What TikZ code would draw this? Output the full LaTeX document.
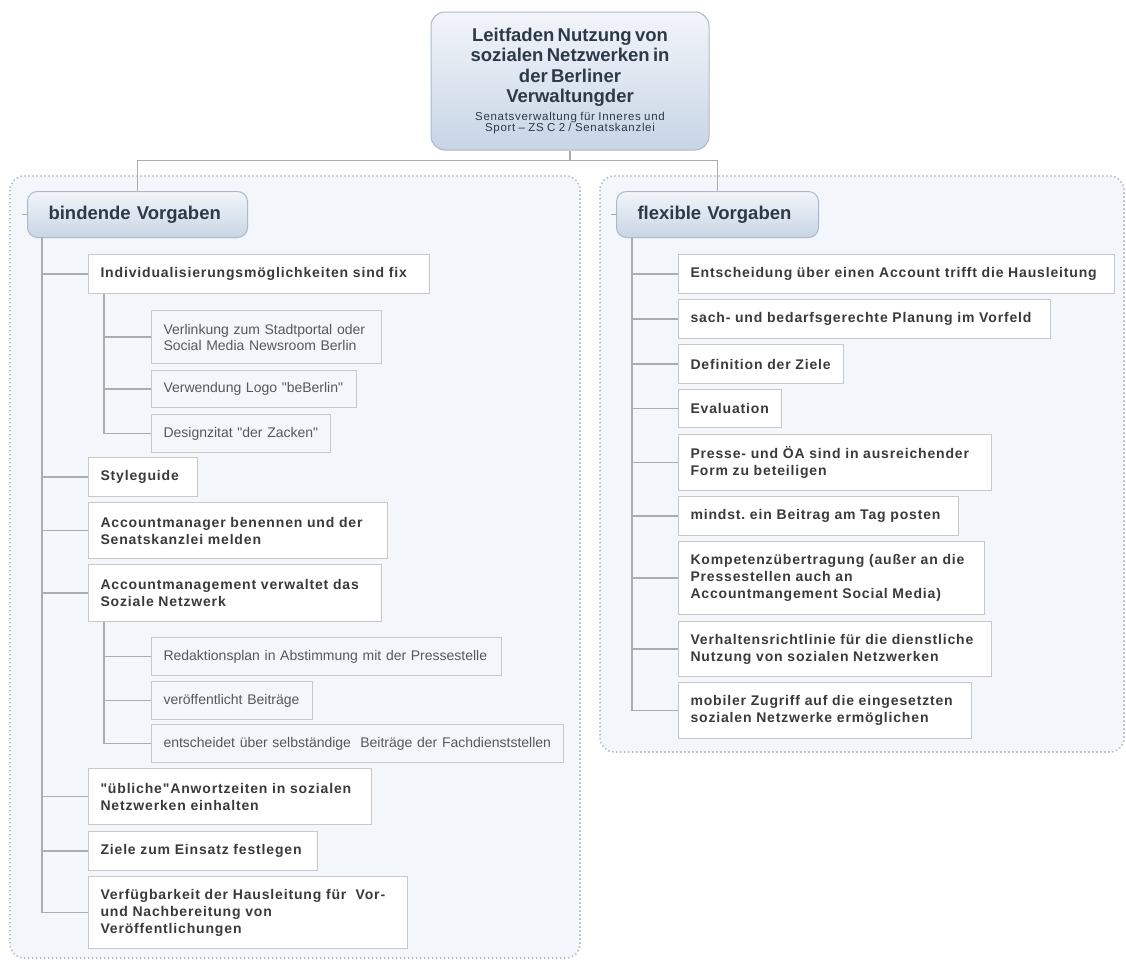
\documentclass[tikz,border=0pt]{standalone}
\usepackage{fontspec}
\setmainfont{Liberation Sans}
\newfontfamily\spacedsans{Liberation Sans}[LetterSpace=6,WordSpace=1.3]
\newfontfamily\plainsans{Liberation Sans}
\usepackage{tikz}
\usetikzlibrary{positioning,calc}
\definecolor{lineCol}{RGB}{172,172,172}
\definecolor{boxLine}{RGB}{200,200,200}
\definecolor{paneBg}{RGB}{243,246,250}
\definecolor{paneDot}{RGB}{182,187,194}
\definecolor{hdTop}{RGB}{242,245,250}
\definecolor{hdBot}{RGB}{200,213,229}
\definecolor{hdLine}{RGB}{172,185,202}
\definecolor{hdTxt}{RGB}{44,57,71}
\definecolor{itemTxt}{RGB}{58,58,58}
\definecolor{subTxt}{RGB}{88,88,88}
\tikzset{
  pane/.style={draw=paneDot,fill=paneBg,line width=1.6pt,
               dash pattern=on 1.4pt off 2.6pt,rounded corners=14pt},
  rootbox/.style={draw=hdLine,line width=1pt,rounded corners=14pt,
                  top color=hdTop,bottom color=hdBot,align=center,text=hdTxt,
                  text width=266pt,minimum width=278pt,minimum height=138pt,inner sep=0pt},
  branch/.style={draw=hdLine,line width=1pt,rounded corners=10pt,
                 top color=hdTop,bottom color=hdBot,anchor=north west,align=left,
                 inner xsep=21pt,inner ysep=0pt,minimum height=46pt,text=hdTxt,
                 font=\plainsans\fontsize{18.5}{20}\selectfont\bfseries},
  item/.style={draw=boxLine,fill=white,line width=1pt,anchor=north west,align=left,
               inner xsep=12pt,inner ysep=0pt,text=itemTxt,
               font=\spacedsans\fontsize{14}{17}\selectfont\bfseries},
  subitem/.style={item,fill=paneBg,text=subTxt,font=\plainsans\fontsize{14}{16}\selectfont},
  link/.style={draw=lineCol,line width=1.2pt},
}

\begin{document}
\frenchspacing
\begin{tikzpicture}[x=1pt,y=-1pt]
  \fill[white] (0,0) rectangle (1126,961);
  % --- the two dotted panes ---
  \draw[pane] (10,176) rectangle (580,958);
  \draw[pane] (600,176) rectangle (1124,752);

  % --- root ---
  \node[rootbox] (root) at (570,81)
    {{\plainsans\fontsize{18.5}{20.5}\selectfont\bfseries Leitfaden Nutzung von\\ sozialen Netzwerken in\\
      der Berliner\\ Verwaltungder\par}\vspace{4pt}%
     {\spacedsans\fontsize{11.5}{11.5}\selectfont Senatsverwaltung für Inneres und\\
      Sport – ZS C 2 / Senatskanzlei\par}};

  % --- branch heads ---
  \node[branch,text width=178pt] (bv) at (27,191) {bindende Vorgaben};
  \node[branch,text width=160pt] (fv) at (616,191) {flexible Vorgaben};

  % --- left column ---
  \node[item,text width=317pt,minimum height=39pt] (i1) at (88,254)
    {Individualisierungsmöglichkeiten sind fix};
  \node[subitem,text width=206pt,minimum height=53pt] (s1) at (151,310)
    {Verlinkung zum Stadtportal oder\\ Social Media Newsroom Berlin};
  \node[subitem,text width=181pt,minimum height=37pt] (s2) at (151,370)
    {Verwendung Logo "beBerlin"};
  \node[subitem,text width=155pt,minimum height=38pt] (s3) at (151,414)
    {Designzitat "der Zacken"};
  \node[item,text width=85pt,minimum height=39pt] (i2) at (88,457) {Styleguide};
  \node[item,text width=275pt,minimum height=56pt] (i3) at (88,502)
    {Accountmanager benennen und der\\ Senatskanzlei melden};
  \node[item,text width=269pt,minimum height=57pt] (i4) at (88,564)
    {Accountmanagement verwaltet das\\ Soziale Netzwerk};
  \node[subitem,text width=326pt,minimum height=38pt] (s4) at (151,637)
    {Redaktionsplan in Abstimmung mit der Pressestelle};
  \node[subitem,text width=137pt,minimum height=38pt] (s5) at (151,681)
    {veröffentlicht Beiträge};
  \node[subitem,text width=388pt,minimum height=38pt] (s6) at (151,724)
    {entscheidet über selbständige~ Beiträge der Fachdienststellen};
  \node[item,text width=259pt,minimum height=56pt] (i5) at (88,768)
    {"übliche"Anwortzeiten in sozialen\\ Netzwerken einhalten};
  \node[item,text width=205pt,minimum height=39pt] (i6) at (88,831)
    {Ziele zum Einsatz festlegen};
  \node[item,text width=295pt,minimum height=72pt] (i7) at (88,876)
    {Verfügbarkeit der Hausleitung für~ Vor-\\ und Nachbereitung von\\ Veröffentlichungen};

  % --- right column ---
  \node[item,text width=412pt,minimum height=39pt] (r1) at (678,254)
    {Entscheidung über einen Account trifft die Hausleitung};
  \node[item,text width=348pt,minimum height=39pt] (r2) at (678,299)
    {sach- und bedarfsgerechte Planung im Vorfeld};
  \node[item,text width=141pt,minimum height=39pt] (r3) at (678,344)
    {Definition der Ziele};
  \node[item,text width=79pt,minimum height=38pt] (r4) at (678,389) {Evaluation};
  \node[item,text width=289pt,minimum height=56pt] (r5) at (678,434)
    {Presse- und ÖA sind in ausreichender\\ Form zu beteiligen};
  \node[item,text width=256pt,minimum height=39pt] (r6) at (678,496)
    {mindst. ein Beitrag am Tag posten};
  \node[item,text width=282pt,minimum height=73pt] (r7) at (678,541)
    {Kompetenzübertragung (außer an die\\ Pressestellen auch an\\ Accountmangement Social Media)};
  \node[item,text width=289pt,minimum height=55pt] (r8) at (678,621)
    {Verhaltensrichtlinie für die dienstliche\\ Nutzung von sozialen Netzwerken};
  \node[item,text width=269pt,minimum height=56pt] (r9) at (678,682)
    {mobiler Zugriff auf die eingesetzten\\ sozialen Netzwerke ermöglichen};

  % --- connectors ---
  \draw[link] (root.south) -- ++(0,10) coordinate (rj);
  \draw[link] (rj) -| (bv.north);
  \draw[link] (rj) -| (fv.north);
  \draw[link] (bv.west) -- ++(-5,0);
  \draw[link] (fv.west) -- ++(-5,0);
  \coordinate (bvT) at ([xshift=15pt]bv.south west);
  \coordinate (fvT) at ([xshift=16pt]fv.south west);
  \coordinate (i1T) at ([xshift=16pt]i1.south west);
  \coordinate (i4T) at ([xshift=16pt]i4.south west);
  \foreach \c in {i1,i2,i3,i4,i5,i6,i7} \draw[link] (bvT) |- (\c.west);
  \foreach \c in {s1,s2,s3} \draw[link] (i1T) |- (\c.west);
  \foreach \c in {s4,s5,s6} \draw[link] (i4T) |- (\c.west);
  \foreach \c in {r1,r2,r3,r4,r5,r6,r7,r8,r9} \draw[link] (fvT) |- (\c.west);
\end{tikzpicture}
\end{document}
